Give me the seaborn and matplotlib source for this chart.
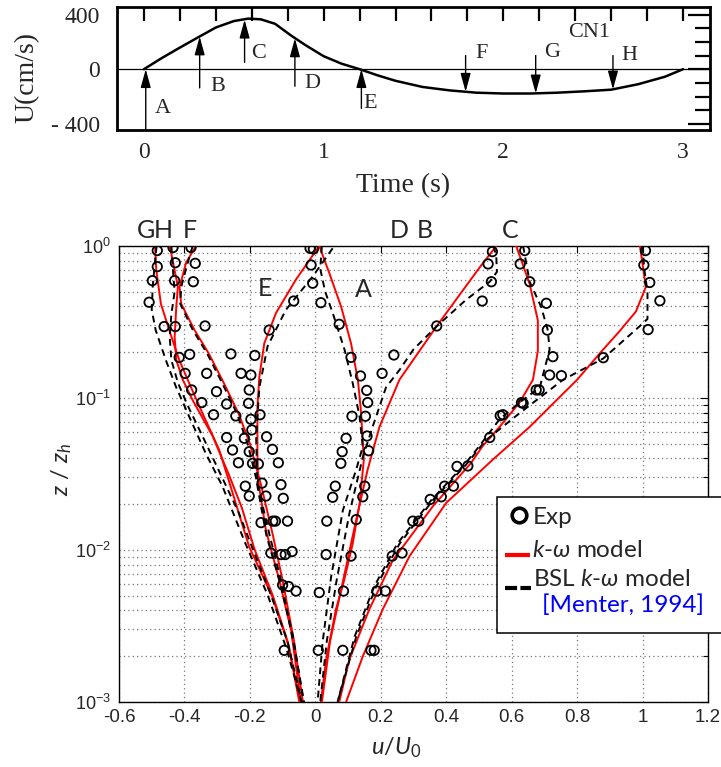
import numpy as np
import pandas as pd
import matplotlib
matplotlib.use("Agg")
import matplotlib.pyplot as plt
import seaborn as sns
from matplotlib.ticker import MultipleLocator, FixedLocator, LogLocator, NullFormatter
from matplotlib.patches import Rectangle
from matplotlib.lines import Line2D

# ---------------- data: top panel (free-stream velocity over one cycle) -------------
cycle_t = [0, 0.1, 0.2, 0.3, 0.4, 0.5, 0.58, 0.65, 0.73, 0.82, 0.9, 1.0, 1.1, 1.2, 1.3,
           1.4, 1.55, 1.7, 1.85, 2.0, 2.15, 2.3, 2.45, 2.6, 2.75, 2.9, 3.0]
cycle_U = [0, 82, 158, 232, 305, 352, 370, 365, 332, 245, 175, 95, 40, 0, -45,
           -85, -130, -155, -172, -178, -178, -172, -162, -150, -110, -55, 0]
phases = ["A", "B", "C", "D", "E", "F", "G", "H"]
arrow_t = [0.01, 0.31, 0.56, 0.84, 1.21, 1.79, 2.18, 2.61]
arrow_from = [-440, -137, 50, -125, -287, 100, 100, 100]
arrow_to = [0, 239, 362, 225, 0, -165, -177, -148]
label_t = [0.105, 0.41, 0.64, 0.94, 1.26, 1.88, 2.27, 2.70]
label_U = [-287, -125, 112, -107, -250, 112, 125, 100]

# ---------------- data: bottom panel (velocity profiles) ----------------
kw_logz = {
    "A": [0, -0.18, -0.40, -0.64, -0.88, -1.10, -1.41, -1.70, -1.96, -2.20, -2.39, -2.72, -3.0],
    "B": [0, -0.25, -0.49, -0.69, -0.88, -1.03, -1.19, -1.32, -1.43, -1.71, -2.07, -2.39, -2.72, -3.0],
    "C": [0, -0.27, -0.43, -0.56, -0.68, -0.88, -1.19, -1.41, -1.69, -2.04, -2.39, -2.70, -3.0],
    "D": [0, -0.147, -0.53, -0.88, -1.19, -1.47, -1.8, -2.2, -2.6, -3.0],
    "E": [0, -0.22, -0.44, -0.64, -0.86, -1.06, -1.36, -1.54, -1.87, -2.2, -2.53, -3.0],
    "F": [0, -0.11, -0.27, -0.38, -0.55, -0.71, -0.9, -1.1, -1.3, -1.58, -1.9, -2.2, -2.6, -3.0],
    "G": [0, -0.16, -0.38, -0.55, -0.75, -0.9, -1.1, -1.34, -1.54, -1.98, -2.31, -2.64, -3.0],
    "H": [0, -0.16, -0.27, -0.4, -0.6, -0.75, -0.88, -1.01, -1.25, -1.5, -1.72, -2.0, -2.3, -2.6, -3.0],
}
kw_u = {
    "A": [0.012, 0.043, 0.079, 0.109, 0.13, 0.14, 0.148, 0.135, 0.114, 0.088, 0.063, 0.033, 0.017],
    "B": [0.614, 0.655, 0.68, 0.68, 0.665, 0.624, 0.563, 0.51, 0.475, 0.36, 0.236, 0.165, 0.104, 0.073],
    "C": [0.992, 1.01, 0.98, 0.93, 0.88, 0.80, 0.655, 0.54, 0.40, 0.288, 0.206, 0.145, 0.094],
    "D": [0.553, 0.50, 0.37, 0.257, 0.196, 0.16, 0.125, 0.085, 0.045, 0.02],
    "E": [0.012, -0.059, -0.12, -0.156, -0.171, -0.177, -0.177, -0.175, -0.151, -0.11, -0.074, -0.044],
    "F": [-0.365, -0.395, -0.415, -0.41, -0.37, -0.325, -0.28, -0.235, -0.2, -0.165, -0.13, -0.1, -0.065, -0.038],
    "G": [-0.49, -0.486, -0.472, -0.447, -0.416, -0.386, -0.345, -0.294, -0.265, -0.202, -0.131, -0.08, -0.049],
    "H": [-0.445, -0.43, -0.42, -0.425, -0.43, -0.425, -0.405, -0.376, -0.314, -0.265, -0.225, -0.185, -0.13, -0.085, -0.047],
}
bsl_logz = {
    "A": [0, -0.15, -0.3, -0.44, -0.68, -0.90, -1.12, -1.32, -1.47, -1.74, -2.18, -2.61, -3.0],
    "B": [0, -0.235, -0.40, -0.55, -0.68, -0.93, -1.03, -1.14, -1.32, -1.44, -1.67, -1.96, -2.24, -2.57, -3.0],
    "C": [0, -0.15, -0.3, -0.48, -0.53, -0.74, -0.88, -1.10, -1.28, -1.44, -1.67, -1.96, -2.24, -2.57, -3.0],
    "D": [0, -0.07, -0.17, -0.235, -0.355, -0.53, -0.68, -0.816, -0.93, -1.19, -1.39, -1.75, -2.2, -2.6, -3.0],
    "E": [-0.015, -0.2, -0.42, -0.66, -0.93, -1.25, -1.58, -1.9, -2.2, -2.55, -3.0],
    "F": [0, -0.11, -0.27, -0.38, -0.55, -0.71, -0.9, -1.1, -1.3, -1.58, -1.9, -2.2, -2.6, -3.0],
    "G": [0, -0.1, -0.27, -0.42, -0.553, -0.75, -0.926, -1.12, -1.364, -1.58, -1.95, -2.3, -2.65, -3.0],
    "H": [0, -0.16, -0.3, -0.45, -0.6, -0.75, -0.9, -1.05, -1.25, -1.5, -1.75, -2.0, -2.3, -2.6, -3.0],
}
bsl_u = {
    "A": [0.02, 0.015, 0.03, 0.053, 0.089, 0.114, 0.135, 0.145, 0.125, 0.084, 0.048, 0.022, 0.007],
    "B": [0.635, 0.655, 0.69, 0.71, 0.716, 0.686, 0.624, 0.563, 0.50, 0.455, 0.355, 0.25, 0.18, 0.12, 0.068],
    "C": [1.0, 1.005, 1.015, 1.015, 0.99, 0.88, 0.757, 0.624, 0.52, 0.46, 0.36, 0.257, 0.186, 0.125, 0.068],
    "D": [0.545, 0.553, 0.555, 0.533, 0.46, 0.37, 0.30, 0.257, 0.216, 0.175, 0.145, 0.105, 0.065, 0.035, 0.015],
    "E": [0.053, -0.008, -0.09, -0.146, -0.171, -0.181, -0.177, -0.15, -0.11, -0.07, -0.035],
    "F": [-0.375, -0.39, -0.41, -0.413, -0.375, -0.33, -0.285, -0.24, -0.207, -0.175, -0.14, -0.105, -0.068, -0.035],
    "G": [-0.485, -0.49, -0.497, -0.50, -0.488, -0.457, -0.426, -0.386, -0.335, -0.284, -0.215, -0.145, -0.088, -0.042],
    "H": [-0.44, -0.435, -0.43, -0.44, -0.445, -0.44, -0.42, -0.39, -0.345, -0.29, -0.235, -0.19, -0.135, -0.085, -0.042],
}
exp_u = {
    "A": [-0.006, -0.013, -0.008, 0.017, 0.073, 0.109, 0.138, 0.157, 0.16, 0.153, 0.158, 0.163, 0.151, 0.145, 0.125, 0.109, 0.086, 0.084],
    "B": [0.64, 0.626, 0.655, 0.706, 0.709, 0.726, 0.716, 0.675, 0.63, 0.565, 0.533, 0.433, 0.395, 0.351, 0.298, 0.235, 0.188, 0.17],
    "C": [1.009, 1.004, 1.022, 1.053, 1.017, 0.88, 0.752, 0.684, 0.635, 0.573, 0.466, 0.422, 0.385, 0.316, 0.265, 0.214, 0.18],
    "D": [0.541, 0.528, 0.538, 0.51, 0.371, 0.24, 0.204, 0.112, 0.094, 0.082, 0.078, 0.061, 0.053, 0.035, 0.033, 0.012, 0.009],
    "E": [-0.016, -0.066, -0.141, -0.185, -0.197, -0.202, -0.204, -0.197, -0.194, -0.174, -0.13, -0.105],
    "F": [-0.38, -0.367, -0.373, -0.337, -0.258, -0.227, -0.169, -0.149, -0.131, -0.113, -0.105, -0.098, -0.085, -0.071, -0.059],
    "G": [-0.483, -0.483, -0.498, -0.508, -0.462, -0.416, -0.398, -0.378, -0.347, -0.311, -0.271, -0.253, -0.235, -0.214, -0.202, -0.166, -0.136, -0.10, -0.095],
    "H": [-0.435, -0.428, -0.43, -0.428, -0.384, -0.332, -0.302, -0.271, -0.243, -0.217, -0.202, -0.192, -0.163, -0.151, -0.122, -0.092, -0.082],
}
exp_logz = {
    "A": [-0.02, -0.125, -0.245, -0.373, -0.515, -0.733, -0.855, -0.95, -1.03, -1.12, -1.25, -1.347, -1.58, -1.65, -1.80, -2.04, -2.27, -2.66],
    "B": [-0.03, -0.118, -0.235, -0.377, -0.553, -0.728, -0.849, -0.947, -1.03, -1.116, -1.26, -1.45, -1.58, -1.667, -1.81, -2.04, -2.27, -2.66],
    "C": [-0.03, -0.125, -0.24, -0.36, -0.55, -0.735, -0.853, -0.947, -1.035, -1.11, -1.447, -1.58, -1.65, -1.81, -2.02, -2.27, -2.66],
    "D": [-0.037, -0.118, -0.235, -0.362, -0.526, -0.717, -0.838, -1.12, -1.265, -1.353, -1.43, -1.58, -1.653, -1.81, -2.03, -2.28, -2.66],
    "E": [-0.015, -0.362, -0.553, -0.72, -0.849, -0.947, -1.035, -1.14, -1.21, -1.434, -1.81, -2.03],
    "F": [-0.01, -0.114, -0.235, -0.526, -0.71, -0.838, -1.11, -1.255, -1.338, -1.426, -1.57, -1.66, -1.81, -2.01, -2.27],
    "G": [-0.03, -0.136, -0.228, -0.37, -0.53, -0.733, -0.838, -0.947, -1.03, -1.11, -1.26, -1.342, -1.426, -1.58, -1.645, -1.82, -2.02, -2.23, -2.66],
    "H": [-0.01, -0.11, -0.228, -0.53, -0.713, -0.838, -0.958, -1.04, -1.118, -1.265, -1.353, -1.43, -1.56, -1.645, -1.81, -2.03, -2.24],
}
# phase labels of the profile panel
plabel_text = ["G", "H", "F", "D", "B", "C", "E", "A"]
plabel_u = [-0.518, -0.465, -0.385, 0.257, 0.334, 0.594, -0.155, 0.147]
plabel_logz = [0.10, 0.10, 0.10, 0.10, 0.10, 0.10, -0.281, -0.285]

xticks_u = [-0.6, -0.4, -0.2, 0, 0.2, 0.4, 0.6, 0.8, 1.0, 1.2]
xtick_labels = ["-0.6", "-0.4", "-0.2", "0", "0.2", "0.4", "0.6", "0.8", "1", "1.2"]

# ---------------- build tables ----------------
def long_table(u_dict, logz_dict):
    rows = []
    for p in phases:
        for u, lz in zip(u_dict[p], logz_dict[p]):
            rows.append((p, u, 10.0 ** lz))
    return pd.DataFrame(rows, columns=["phase", "u", "z"])

kw_df = long_table(kw_u, kw_logz)
bsl_df = long_table(bsl_u, bsl_logz)
exp_df = long_table(exp_u, exp_logz)
cycle_df = pd.DataFrame({"t": cycle_t, "U": cycle_U})

# ---------------- style ----------------
sns.set_theme(style="white")
plt.rcParams.update({
    "font.family": ["Liberation Sans", "DejaVu Sans"],
    "axes.unicode_minus": False,
    "mathtext.fontset": "custom",
    "mathtext.rm": "Lato",
    "mathtext.it": "Lato:italic",
    "mathtext.bf": "Lato:bold",
    "mathtext.fallback": "stixsans",
})

W, H = 721, 767
fig = plt.figure(figsize=(W / 100, H / 100), dpi=100)
fig.patch.set_facecolor("white")

def rect(l, t, r, b):
    return [l / W, 1 - b / H, (r - l) / W, (b - t) / H]

def fx(x):
    return x / W

def fy(y):
    return 1 - y / H

SERIF = ["Liberation Serif", "DejaVu Serif"]
SANS = ["Lato", "DejaVu Sans"]

# ================= top panel =================
ax1 = fig.add_axes(rect(117, 7, 710, 130))
ax1.set_facecolor("white")
sns.lineplot(data=cycle_df, x="t", y="U", ax=ax1, color="black", lw=1.8)
ax1.axhline(0, color="black", lw=0.9, zorder=1)
for p, t, a0, a1, lt, lu in zip(phases, arrow_t, arrow_from, arrow_to, label_t, label_U):
    ax1.annotate("", xy=(t, a1), xytext=(t, a0),
                 arrowprops=dict(arrowstyle="-|>,head_length=0.8,head_width=0.22",
                                 color="black", lw=1.0, shrinkA=0, shrinkB=0,
                                 mutation_scale=14))
    ax1.text(lt, lu, p, ha="center", va="center", family=SERIF, size=16)
ax1.text(2.48, 269, "CN1", ha="center", va="center", family=SERIF, size=16)
ax1.set_xlim(-0.15, 3.15)
ax1.set_ylim(-445, 455)
ax1.set_xticks([0, 1, 2, 3], ["0", "1", "2", "3"], fontfamily=SERIF, fontsize=17)
ax1.xaxis.set_minor_locator(MultipleLocator(0.2))
ax1.set_yticks([-400, 0, 400], ["- 400", "0", "400"], fontfamily=SERIF, fontsize=17)
ax1.yaxis.set_minor_locator(MultipleLocator(100))
ax1.tick_params(which="both", direction="in", top=True, right=True, width=1.6, color="black")
ax1.tick_params(axis="x", which="both", length=10, pad=9)
ax1.tick_params(axis="y", which="major", length=16, pad=12)
ax1.tick_params(axis="y", which="minor", length=11)
for s in ax1.spines.values():
    s.set_linewidth(2.0)
    s.set_color("black")
ax1.set_xlabel("Time (s)", family=SERIF, fontsize=20, va="center")
ax1.xaxis.set_label_coords(0.482, -0.455)
ax1.set_ylabel("U(cm/s)", family=SERIF, fontsize=20, va="center")
ax1.yaxis.set_label_coords(-0.152, 0.43)

# ================= bottom panel =================
ax2 = fig.add_axes(rect(119, 246, 708, 702))
ax2.set_facecolor("white")
ax2.set_yscale("log")
ax2.set_xlim(-0.6, 1.2)
ax2.set_ylim(1e-3, 1)

sns.lineplot(data=kw_df, x="u", y="z", units="phase", estimator=None, sort=False,
             color="#ff0000", lw=1.4, ax=ax2, legend=False, zorder=3)
sns.lineplot(data=bsl_df, x="u", y="z", units="phase", estimator=None, sort=False,
             color="black", lw=1.4, linestyle=(0, (3.5, 2.5)), ax=ax2, legend=False, zorder=3)
sns.scatterplot(data=exp_df, x="u", y="z", marker="o", s=46, facecolor="none",
                edgecolor="black", linewidth=1.3, ax=ax2, legend=False, zorder=4)

ax2.set_xticks(xticks_u, xtick_labels, fontsize=13.5)
ax2.yaxis.set_major_locator(LogLocator(base=10, numticks=10))
ax2.yaxis.set_minor_locator(LogLocator(base=10, subs=np.arange(2, 10), numticks=20))
ax2.yaxis.set_minor_formatter(NullFormatter())
ax2.tick_params(axis="y", which="major", labelsize=13)
ax2.tick_params(which="both", direction="in", top=True, right=True, color="black", width=0.8)
ax2.tick_params(axis="x", which="major", length=5, pad=5)
ax2.tick_params(axis="y", which="major", length=6, pad=6)
ax2.tick_params(axis="y", which="minor", length=3.5)
ax2.grid(True, axis="x", which="major", color="#777777", linestyle=(0, (1, 2.5)), lw=0.9)
ax2.grid(True, axis="y", which="both", color="#777777", linestyle=(0, (1, 2.5)), lw=0.9)
ax2.set_axisbelow(True)
for s in ax2.spines.values():
    s.set_linewidth(1.0)
    s.set_color("black")
ax2.set_xlabel(r"$u/U_0$", fontsize=17, va="center")
ax2.xaxis.set_label_coords(0.47, -0.10)
ax2.set_ylabel(r"$z$ / $z_h$", family=SANS, fontsize=17, va="center")
ax2.yaxis.set_label_coords(-0.097, 0.509)

for txt, u, lz in zip(plabel_text, plabel_u, plabel_logz):
    ax2.text(u, 10.0 ** lz, txt, ha="center", va="center", family=SANS, size=18,
             clip_on=False, zorder=6)

# ---------------- legend (drawn box, partly beyond the right edge) ----------------
fig.add_artist(Rectangle((fx(497), fy(633)), fx(760) - fx(497), fy(497) - fy(633),
                         transform=fig.transFigure, facecolor="white",
                         edgecolor="black", lw=1.1, zorder=10))
fig.add_artist(Line2D([fx(519)], [fy(515)], transform=fig.transFigure, marker="o",
                      markersize=10.5, markerfacecolor="none", markeredgecolor="black",
                      markeredgewidth=2.6, linestyle="none", zorder=11))
fig.add_artist(Line2D([fx(505), fx(530)], [fy(555), fy(555)], transform=fig.transFigure,
                      color="#ff0000", lw=3, zorder=11, solid_capstyle="butt"))
fig.add_artist(Line2D([fx(505), fx(531)], [fy(588), fy(588)], transform=fig.transFigure,
                      color="black", lw=3, linestyle=(0, (2.9, 0.8)), zorder=11,
                      dash_capstyle="butt"))
fig.text(fx(533), fy(524), "Exp", ha="left", va="baseline", family=SANS, size=17.5, zorder=12)
fig.text(fx(532), fy(557), r"$k$-$\omega$ model", ha="left", va="baseline", family=SANS,
         size=17.5, zorder=12)
fig.text(fx(533), fy(586), r"BSL $k$-$\omega$ model", ha="left", va="baseline", family=SANS,
         size=17.5, zorder=12)
fig.text(fx(542), fy(612), "[Menter, 1994]", ha="left", va="baseline", family=SANS,
         size=17.5, color="#0000ff", zorder=12)

fig.savefig("out.png", dpi=100, facecolor="white")
